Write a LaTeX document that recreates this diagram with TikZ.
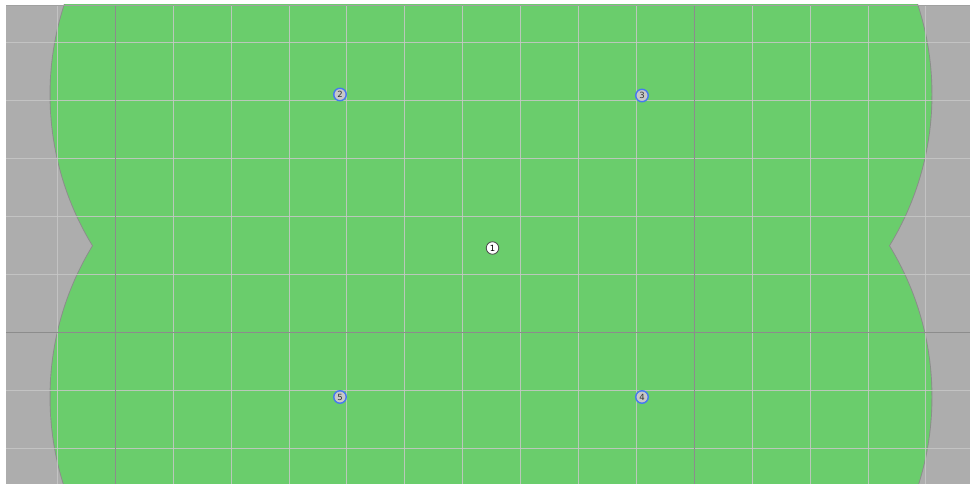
\documentclass[tikz,border=0pt]{standalone}
\usepackage{fontspec}
\setmainfont{DejaVu Sans}
\definecolor{bggray}{RGB}{173,173,173}
\definecolor{fieldgreen}{RGB}{106,205,108}
\definecolor{lightgrid}{RGB}{200,200,200}
\definecolor{darkgrid}{RGB}{140,140,140}
\definecolor{markblue}{RGB}{70,120,240}
\definecolor{markgray}{RGB}{200,200,200}
\tikzset{
  gridline/.style={draw=lightgrid, line width=1pt, opacity=0.85},
  axisline/.style={draw=darkgrid, line width=1pt},
  lobe/.style={fill=fieldgreen},
  lobeedge/.style={draw=darkgrid, line width=1.8pt},
  pt/.style={circle, draw=markblue, fill=markgray, line width=1.4pt, minimum size=12.5pt, inner sep=0pt, font=\fontsize{8.5}{8.5}\selectfont, text=black!80},
  centerpt/.style={circle, draw=black!70, fill=white, line width=0.8pt, minimum size=12.5pt, inner sep=0pt, font=\fontsize{8.5}{8.5}\selectfont, text=black},
}
\begin{document}
\begin{tikzpicture}[x=1pt,y=-1pt]
\useasboundingbox (0,0) rectangle (970,484);
\fill[white] (0,0) rectangle (970,484);
\begin{scope}
\clip (6,5) rectangle (970,484);
\fill[bggray] (6,5) rectangle (970,484);
% outline of the four lobes
\foreach \cx/\cy in {340/94.5, 642/94.5, 340/397, 642/397}
  \draw[lobeedge] (\cx,\cy) circle[radius=289.5];
\foreach \cx/\cy in {340/94.5, 642/94.5, 340/397, 642/397}
  \fill[lobe] (\cx,\cy) circle[radius=289.5];
% grid
\foreach \k in {-1,...,14}
  \draw[gridline] ({115.3+57.9*\k},5) -- ({115.3+57.9*\k},484);
\foreach \k in {-2,...,5}
  \draw[gridline] (6,{332.3-57.9*\k}) -- (970,{332.3-57.9*\k});
\draw[axisline] (115.3,5) -- (115.3,484);
\draw[axisline] (694.3,5) -- (694.3,484);
\draw[axisline] (6,332.3) -- (970,332.3);
\draw[lightgrid!80!black, line width=1pt] (6,5.5) -- (970,5.5);
\end{scope}
% markers
\node[centerpt] (p1) at (492.5,248) {1};
\node[pt] (p2) at (340,94.5) {2};
\node[pt] (p3) at (642,95.5) {3};
\node[pt] (p4) at (642,397) {4};
\node[pt] (p5) at (340,397) {5};
\end{tikzpicture}
\end{document}
